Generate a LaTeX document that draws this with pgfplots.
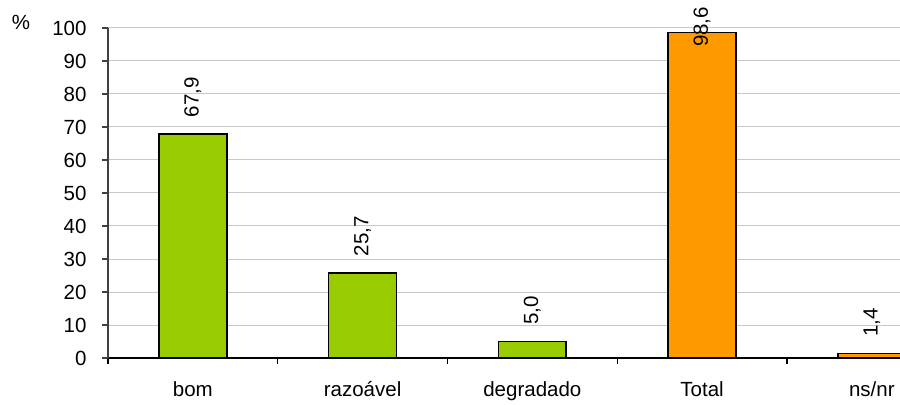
\documentclass[border=0pt]{standalone}
\usepackage{fontspec}
\setmainfont{Liberation Sans}
\usepackage{pgfplots}
\pgfplotsset{compat=1.18}
\usetikzlibrary{calc}

\definecolor{barGreen}{HTML}{99CC00}
\definecolor{barOrange}{HTML}{FF9900}
\definecolor{gridGray}{HTML}{C8C8C8}
\definecolor{axisGray}{HTML}{404040}

\newcommand{\chartfont}{\fontsize{20.5bp}{24bp}\selectfont}

\begin{document}
\begin{tikzpicture}[font=\chartfont]
\begin{axis}[
  scale only axis,
  width=792bp, height=330bp,
  xmin=-0.5, xmax=4.166,
  ymin=0, ymax=100,
  ytick={0,10,...,100},
  ymajorgrids,
  grid style={gridGray, line width=1bp},
  /pgf/number format/assume math mode=true,
  every tick label/.append style={font=\chartfont},
  axis x line*=bottom,
  axis y line*=left,
  x axis line style={black, line width=1.6bp},
  y axis line style={axisGray, line width=1.6bp},
  tick align=outside,
  major tick length=6bp,
  y tick style={axisGray, line width=1.2bp},
  x tick style={black, line width=1.2bp},
  yticklabel style={xshift=-12bp},
  xtick={-0.5,0.5,1.5,2.5,3.5},
  xticklabels={},
  extra x ticks={0,1,2,3,4},
  extra x tick labels={bom,razoável,degradado,Total,ns/nr},
  extra x tick style={major tick length=0pt, xticklabel style={yshift=-20bp}},
  ybar, bar width=0.4, bar shift=0pt,
  nodes near coords={\pgfmathprintnumber[fixed, fixed zerofill, precision=1, use comma]{\pgfplotspointmeta}},
  every node near coord/.append style={font=\chartfont, rotate=90, anchor=west, inner xsep=0pt, xshift=16bp},
  clip=true,
]
% share of answers by state of conservation
\addplot[fill=barGreen, draw=black, line width=1.6bp] coordinates {(0,67.9) (1,25.7) (2,5.0)};
% total (label pushed down so it stays inside the frame)
\addplot[fill=barOrange, draw=black, line width=1.6bp,
  every node near coord/.append style={xshift=-31bp}] coordinates {(3,98.6)};
% did not know / did not answer
\addplot[fill=barOrange, draw=black, line width=1.6bp] coordinates {(4,1.4)};
\coordinate (ll) at (rel axis cs:0,0);
\coordinate (ur) at (rel axis cs:1,1);
\end{axis}
\node at ($(ll|-ur)+(-87bp,6bp)$) {\%};
\pgfresetboundingbox
\path[use as bounding box] ($(ll)+(-108bp,-47bp)$) rectangle ($(ur)+(0,28bp)$);
\end{tikzpicture}
\end{document}
